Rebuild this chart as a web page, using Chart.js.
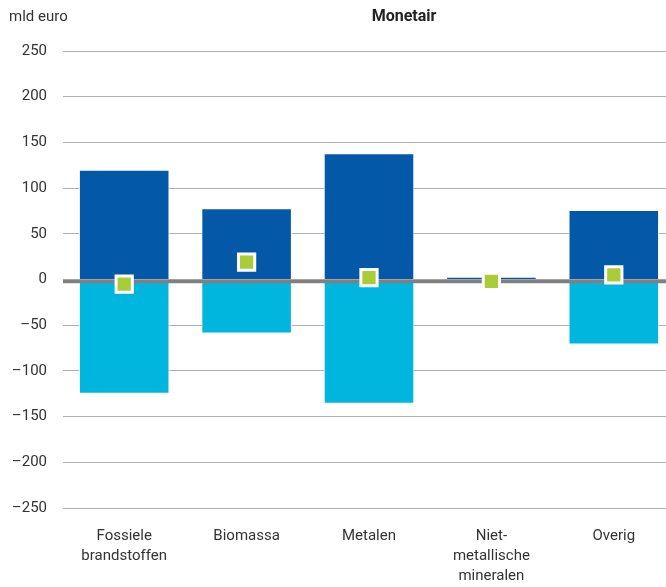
<!DOCTYPE html>
<html>
<head>
<meta charset="utf-8">
<script src="https://cdn.jsdelivr.net/npm/chart.js"></script>
<style>
  html, body { margin: 0; padding: 0; background: #fff; overflow: hidden; width: 666px; height: 587px; }
  #myChart { display: block; width: 676px; height: 587px; }
</style>
</head>
<body>
<canvas id="myChart" width="676" height="587"></canvas>
<script>
// Grondstofgroepen, in mld euro
var categories = [["Fossiele", "brandstoffen"], "Biomassa", "Metalen", ["Niet-", "metallische", "mineralen"], "Overig"];
var invoer = [120, 78, 138, 3, 76];
var uitvoer = [-125, -59, -136, -5, -71];
var saldo = [-5, 19, 2, -2, 5];
var yTicks = [250, 200, 150, 100, 50, 0, -50, -100, -150, -200, -250];

var fontFamily = "Roboto, 'Noto Sans', sans-serif";

// zero line sits above the bars but under the balance markers
var zeroLine = {
    id: 'zeroLine',
    beforeDatasetDraw: function (chart, args) {
        if (args.index !== 2) return;
        var y = chart.scales.y.getPixelForValue(0) + 2;
        var ctx = chart.ctx;
        ctx.save();
        ctx.strokeStyle = '#808080';
        ctx.lineWidth = 3.7;
        ctx.beginPath();
        ctx.moveTo(chart.chartArea.left, y);
        ctx.lineTo(chart.width, y);
        ctx.stroke();
        ctx.restore();
    }
};

// unit label and panel title
var header = {
    id: 'header',
    afterDraw: function (chart) {
        var ctx = chart.ctx;
        ctx.save();
        ctx.textBaseline = 'middle';
        ctx.fillStyle = '#333';
        ctx.font = '15px ' + fontFamily;
        ctx.textAlign = 'left';
        ctx.fillText('mld euro', 9, 17);
        ctx.font = 'bold 16px ' + fontFamily;
        ctx.fillStyle = '#222';
        ctx.textAlign = 'center';
        ctx.fillText('Monetair', 404, 17);
        ctx.restore();
    }
};

var ctx = document.getElementById('myChart').getContext('2d');
var chart = new Chart(ctx, {
    type: 'bar',
    data: {
        labels: categories,
        datasets: [
            {
                label: 'Invoer',
                data: invoer,
                backgroundColor: '#0358a8',
                borderColor: '#ffffff',
                borderWidth: 1,
                barPercentage: 0.74,
                categoryPercentage: 1,
                stack: 's',
                order: 1
            },
            {
                label: 'Uitvoer',
                data: uitvoer,
                backgroundColor: '#00b6de',
                borderColor: '#ffffff',
                borderWidth: 1,
                barPercentage: 0.74,
                categoryPercentage: 1,
                stack: 's',
                order: 1
            },
            {
                type: 'line',
                label: 'Saldo',
                data: saldo,
                showLine: false,
                pointStyle: 'rect',
                pointRadius: 11.5,
                pointHoverRadius: 11.5,
                pointBackgroundColor: '#a9cc38',
                pointBorderColor: '#ffffff',
                pointBorderWidth: 3,
                order: 0
            }
        ]
    },
    options: {
        responsive: false,
        animation: false,
        layout: { autoPadding: false, padding: { top: 51, left: 0, right: 1, bottom: 0 } },
        plugins: {
            legend: { display: false },
            tooltip: { enabled: false }
        },
        scales: {
            x: {
                stacked: true,
                grid: { display: false },
                border: { display: false },
                ticks: {
                    color: '#333',
                    font: { family: fontFamily, size: 15, lineHeight: 1.33 },
                    padding: 10,
                    maxRotation: 0
                },
                afterFit: function (scale) {
                    scale.height = 79;
                    scale.paddingLeft = 0;
                    scale.paddingRight = 0;
                }
            },
            y: {
                stacked: true,
                min: -250,
                max: 250,
                afterBuildTicks: function (scale) {
                    scale.ticks = yTicks.map(function (v) { return { value: v }; });
                },
                border: { display: false },
                grid: {
                    drawTicks: false,
                    color: '#b0b0b0',
                    lineWidth: 1
                },
                ticks: {
                    color: '#333',
                    font: { family: fontFamily, size: 15 },
                    padding: 16,
                    callback: function (v) { return v < 0 ? '\u2013' + Math.abs(v) : String(v); }
                },
                afterFit: function (scale) { scale.width = 63; }
            }
        }
    },
    plugins: [zeroLine, header]
});
</script>
</body>
</html>
